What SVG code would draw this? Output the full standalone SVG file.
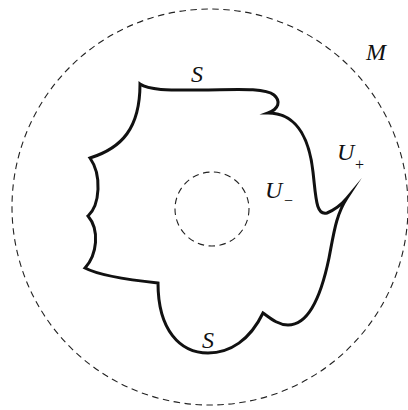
<svg xmlns="http://www.w3.org/2000/svg" width="408" height="410" viewBox="0 0 408 410">
<style>
.dash{fill:none;stroke:#222;stroke-width:1.1;stroke-dasharray:6.5 4.5}
.curve{fill:none;stroke:#111;stroke-width:3;stroke-linejoin:miter;stroke-miterlimit:20}
.lbl{font-family:"Liberation Serif","DejaVu Serif",serif;font-style:italic;font-size:24px;fill:#111}
.sub{font-family:"Liberation Serif","DejaVu Serif",serif;font-style:normal;font-size:16px;fill:#111}
</style>
<rect width="408" height="410" fill="#fff"/>
<g id="M">
<circle class="dash" cx="210" cy="207" r="198"/>
<text class="lbl" x="366" y="60">M</text>
</g>
<g id="Uminus">
<circle class="dash" cx="212" cy="209" r="37"/>
<text class="lbl" x="265" y="198">U</text>
<text class="sub" x="284" y="206">−</text>
</g>
<g id="S">
<path class="curve" d="M140,84 C150,91 175,90 200,90 C230,90 264,87 274,95 C281,101 279,109 268,113 C300,113 310,145 313,172 C316,198 316,216 327,213 C334,210 342,204 347,198 C336,215 334,232 329,258 C324,282 318,298 312,308 C306,318 298,325 288,325 C278,325 270,318 263,313 C250,340 230,353 208,353 C180,353 158,330 158,283 C130,280 100,276 85,268 C97,255 100,230 88,216 C100,205 102,175 90,158 C122,148 140,128 140,84 Z"/>
<text class="lbl" x="191" y="82">S</text>
<text class="lbl" x="202" y="348">S</text>
</g>
<g id="Uplus">
<text class="lbl" x="337" y="160">U</text>
<text class="sub" x="355" y="170">+</text>
</g>
<g id="connectors"></g>
</svg>
